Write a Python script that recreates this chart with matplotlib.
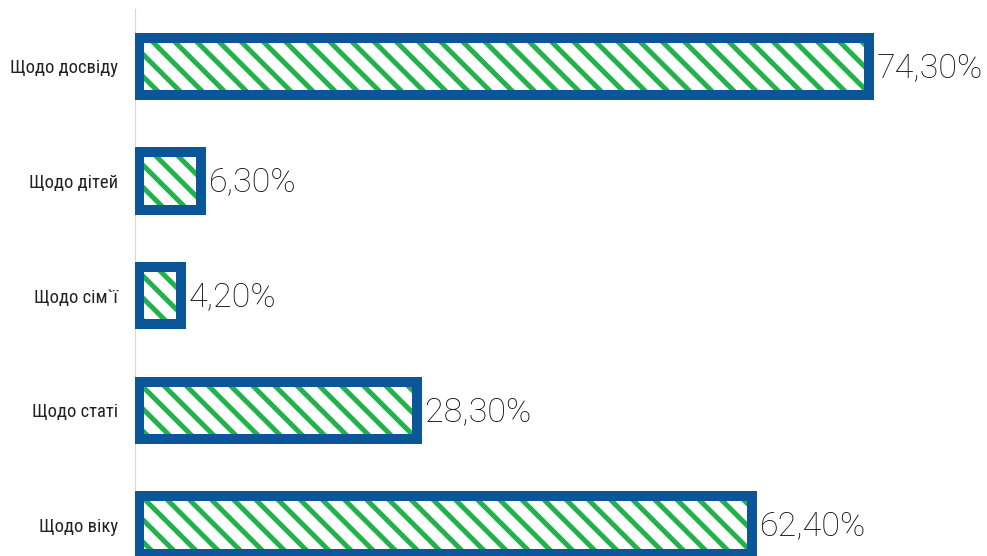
import matplotlib
matplotlib.use("Agg")
import matplotlib.pyplot as plt

# survey results, top to bottom
categories = ["Щодо досвіду", "Щодо дітей", "Щодо сім`ї", "Щодо статі", "Щодо віку"]
values = [74.3, 6.3, 4.2, 28.3, 62.4]
value_labels = ["74,30%", "6,30%", "4,20%", "28,30%", "62,40%"]

blue = "#0a5699"
green = "#22b24c"

# higher dpi spreads the hatch lines out a bit; sizes below are given in pixels
DPI = 133.33
W, H = 987, 556


def pt(px):
    return px * 72.0 / DPI


plt.rcParams["hatch.linewidth"] = pt(5)
plt.rcParams["hatch.color"] = green

fig = plt.figure(figsize=(W / DPI, H / DPI), dpi=DPI)
ax = fig.add_axes([134.5 / W, 0, 1 - 134.5 / W, 1 - 9 / H])

ypos = list(range(len(categories)))

# green scribble fill, then the thick blue frame on top
ax.barh(ypos, values, height=0.5, color="white", edgecolor=green,
        linewidth=0, hatch="\\\\", zorder=2)
ax.barh(ypos, values, height=0.5, color="none", edgecolor=blue,
        linewidth=pt(10), zorder=3)

for y, v, lab in zip(ypos, values, value_labels):
    ax.annotate(lab, (v, y), xytext=(pt(8), -pt(1.5)), textcoords="offset points",
                ha="left", va="center", fontsize=pt(34), fontweight="light",
                family=["Roboto", "DejaVu Sans"], color="#111111")

ax.set_yticks(ypos)
ax.set_yticklabels(categories, family=["Roboto Condensed", "Roboto", "DejaVu Sans"],
                   fontsize=pt(18.6), color="#222222")
ax.tick_params(axis="y", length=0, pad=pt(16.5))
ax.set_xticks([])

ax.set_xlim(-0.49, 86.3)
ax.set_ylim(4.27, -0.50)

for side in ["top", "right", "bottom"]:
    ax.spines[side].set_visible(False)
ax.spines["left"].set_color("#d9d9d9")
ax.spines["left"].set_linewidth(pt(1.2))

fig.savefig("out.png", dpi=DPI)
